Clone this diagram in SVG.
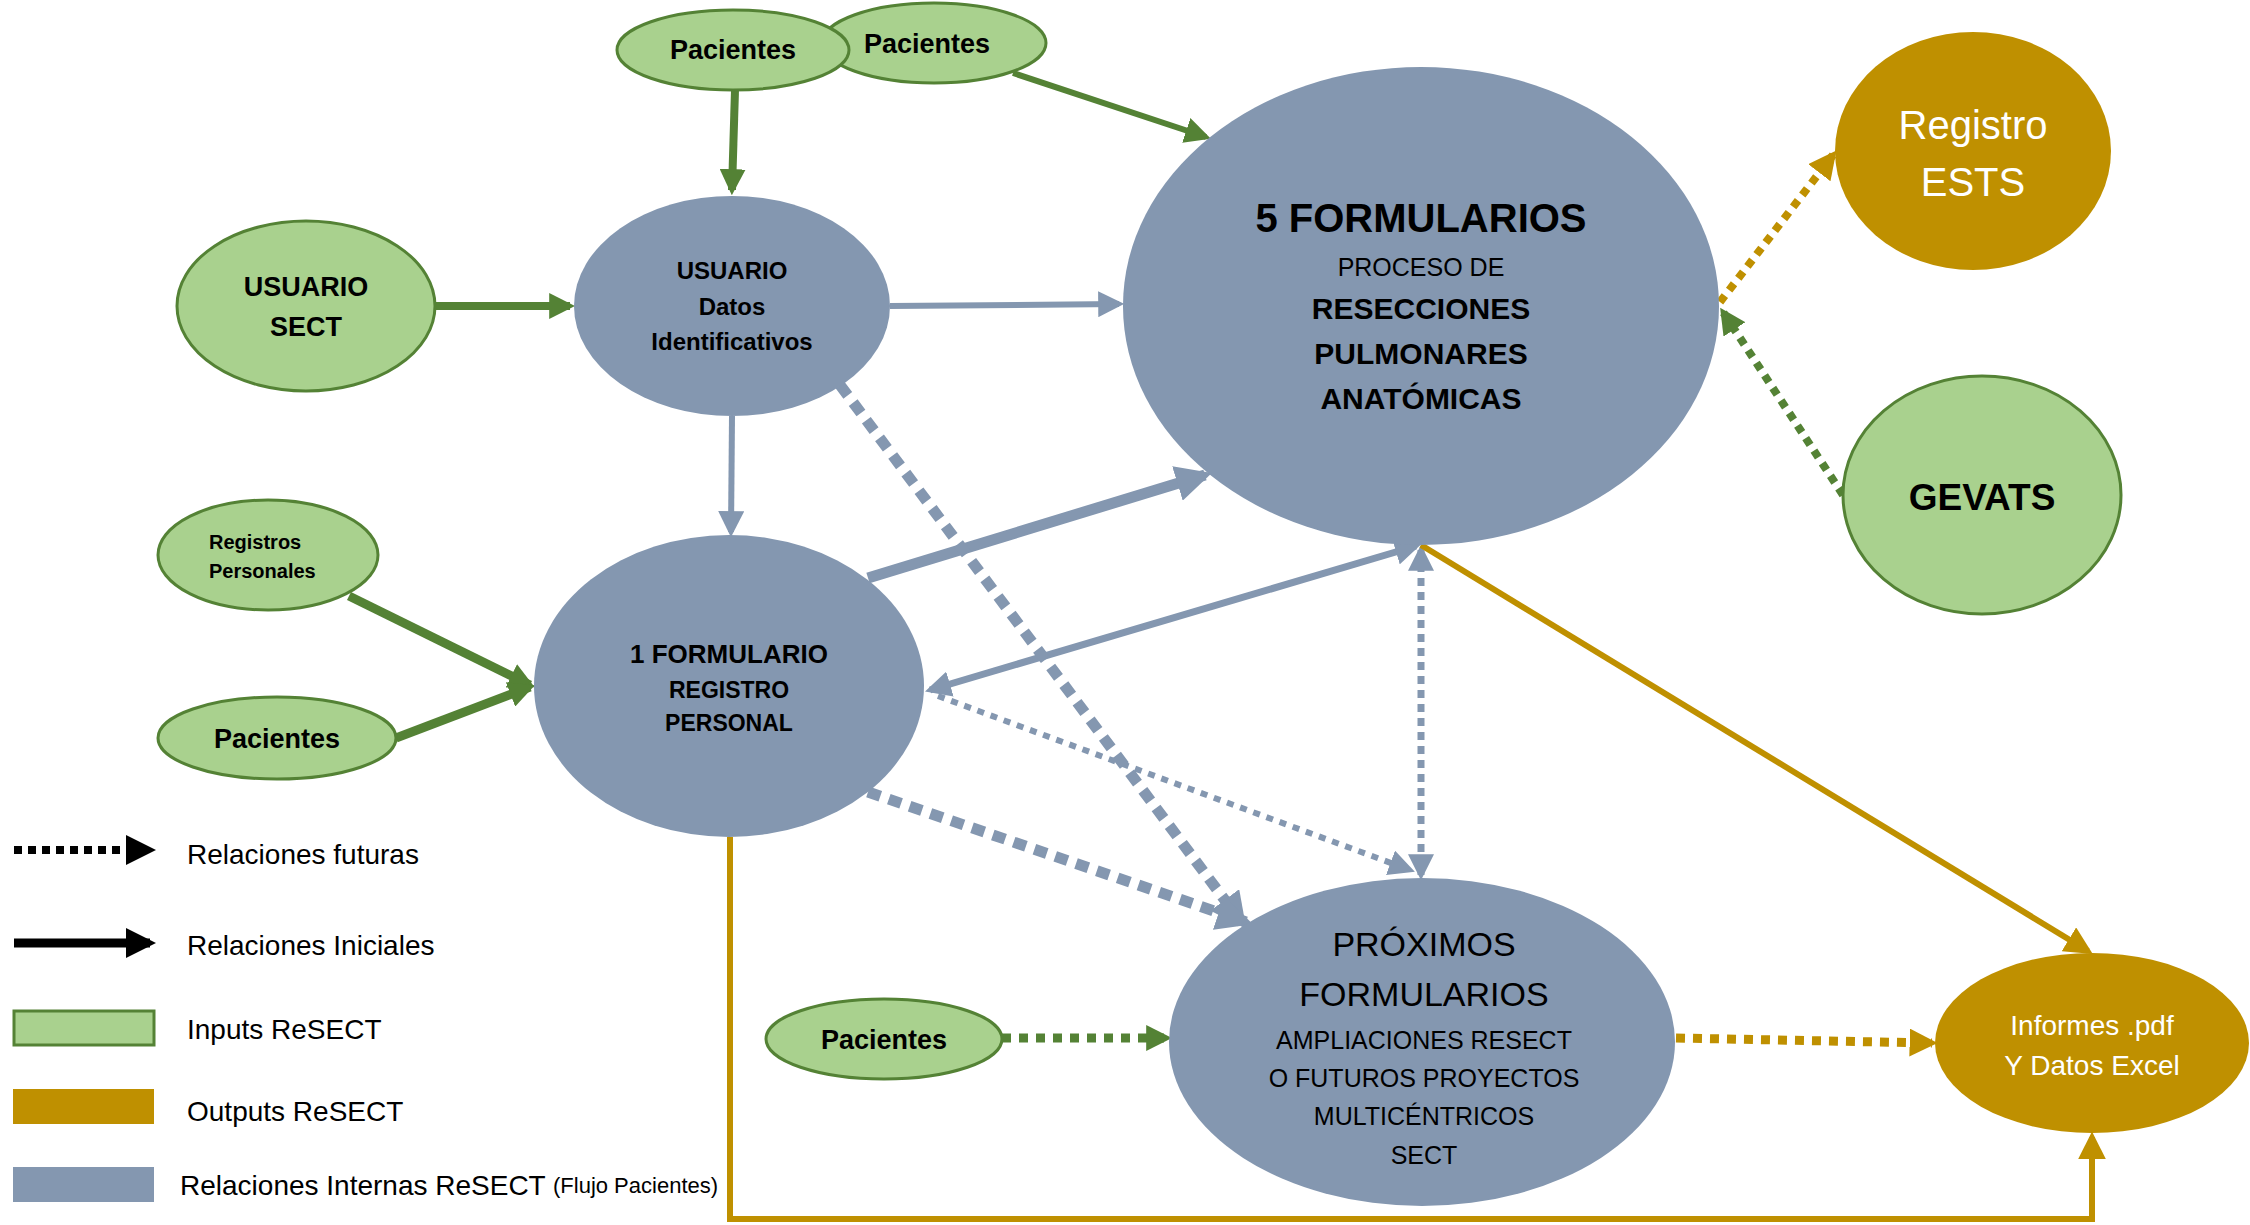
<svg xmlns="http://www.w3.org/2000/svg" width="2250" height="1225" viewBox="0 0 2250 1225">
<style>
.gin{fill:#A9D18E;stroke:#548235;stroke-width:3}
.blu{fill:#8497B0}
.gld{fill:#BF9000}
text{font-family:"Liberation Sans",Arial,sans-serif;text-anchor:middle;dominant-baseline:central}
.b{font-weight:bold;fill:#000}
.r{fill:#000}
.w{fill:#fff}
.st{text-anchor:start}
.lg{text-anchor:start;font-size:28px;fill:#000}
.cg{stroke:#548235;fill:none}
.cb{stroke:#8497B0;fill:none}
.co{stroke:#BF9000;fill:none}
.ck{stroke:#000;fill:none}
</style>
<defs>
<marker id="aG" viewBox="0 0 10 10" refX="8" refY="5" markerWidth="26" markerHeight="26" markerUnits="userSpaceOnUse" orient="auto-start-reverse"><path d="M0,0 L10,5 L0,10 z" fill="#548235"/></marker>
<marker id="aB" viewBox="0 0 10 10" refX="8" refY="5" markerWidth="26" markerHeight="26" markerUnits="userSpaceOnUse" orient="auto-start-reverse"><path d="M0,0 L10,5 L0,10 z" fill="#8497B0"/></marker>
<marker id="aBL" viewBox="0 0 10 10" refX="8" refY="5" markerWidth="36" markerHeight="36" markerUnits="userSpaceOnUse" orient="auto-start-reverse"><path d="M0,0 L10,5 L0,10 z" fill="#8497B0"/></marker>
<marker id="aO" viewBox="0 0 10 10" refX="8" refY="5" markerWidth="28" markerHeight="28" markerUnits="userSpaceOnUse" orient="auto-start-reverse"><path d="M0,0 L10,5 L0,10 z" fill="#BF9000"/></marker>
<marker id="aK" viewBox="0 0 10 10" refX="8" refY="5" markerWidth="30" markerHeight="30" markerUnits="userSpaceOnUse" orient="auto"><path d="M0,0 L10,5 L0,10 z" fill="#000"/></marker>
</defs>

<g id="connectors">
<line class="cg" x1="735" y1="90" x2="732" y2="190" stroke-width="8" marker-end="url(#aG)"/>
<line class="cg" x1="1013" y1="73" x2="1206" y2="137" stroke-width="6" marker-end="url(#aG)"/>
<line class="cg" x1="435" y1="306" x2="570" y2="306" stroke-width="8" marker-end="url(#aG)"/>
<line class="cb" x1="890" y1="306" x2="1119" y2="304" stroke-width="6" marker-end="url(#aB)"/>
<line class="cb" x1="732" y1="416" x2="731" y2="532" stroke-width="6" marker-end="url(#aB)"/>
<line class="cg" x1="349" y1="596" x2="530" y2="685" stroke-width="9" marker-end="url(#aG)"/>
<line class="cg" x1="396" y1="738" x2="530" y2="687" stroke-width="9" marker-end="url(#aG)"/>
<line class="cb" x1="868" y1="578" x2="1205" y2="475" stroke-width="11" marker-end="url(#aBL)"/>
<line class="cb" x1="930" y1="690" x2="1416" y2="546" stroke-width="7" marker-start="url(#aB)" marker-end="url(#aB)"/>
<line class="cb" x1="1421" y1="550" x2="1421" y2="875" stroke-width="7" stroke-dasharray="8,6" marker-start="url(#aB)" marker-end="url(#aB)"/>
<line class="cb" x1="938" y1="696" x2="1410" y2="870" stroke-width="6" stroke-dasharray="7,7" marker-end="url(#aB)"/>
<line class="cb" x1="840" y1="385" x2="1242" y2="923" stroke-width="11" stroke-dasharray="13,9" marker-end="url(#aBL)"/>
<line class="cb" x1="868" y1="792" x2="1246" y2="922" stroke-width="11" stroke-dasharray="13,9" marker-end="url(#aBL)"/>
<line class="co" x1="1421" y1="545" x2="2088" y2="951" stroke-width="6" marker-end="url(#aO)"/>
<polyline class="co" points="730,837 730,1219 2092,1219 2092,1137" stroke-width="6" marker-end="url(#aO)"/>
<line class="co" x1="1676" y1="1038" x2="1932" y2="1043" stroke-width="9" stroke-dasharray="9,8" marker-end="url(#aO)"/>
<line class="cg" x1="1002" y1="1038" x2="1167" y2="1038" stroke-width="9" stroke-dasharray="9,8" marker-end="url(#aG)"/>
<line class="co" x1="1720" y1="302" x2="1833" y2="155" stroke-width="8" stroke-dasharray="8,7" marker-end="url(#aO)"/>
<line class="cg" x1="1843" y1="495" x2="1723" y2="312" stroke-width="8" stroke-dasharray="8,7" marker-end="url(#aG)"/>
</g>

<g id="pacientes-b"><ellipse class="gin" cx="934" cy="43" rx="112" ry="40"/><text class="b" x="927" y="44" font-size="27">Pacientes</text></g>
<g id="pacientes-a"><ellipse class="gin" cx="733" cy="50" rx="116" ry="40"/><text class="b" x="733" y="50" font-size="27">Pacientes</text></g>
<g id="usuario-sect"><ellipse class="gin" cx="306" cy="306" rx="129" ry="85"/><text class="b" x="306" y="287" font-size="27">USUARIO</text><text class="b" x="306" y="327" font-size="27">SECT</text></g>
<g id="usuario-datos"><ellipse class="blu" cx="732" cy="306" rx="158" ry="110"/><text class="b" x="732" y="270" font-size="24">USUARIO</text><text class="b" x="732" y="306" font-size="24">Datos</text><text class="b" x="732" y="341" font-size="24">Identificativos</text></g>
<g id="cinco-formularios"><ellipse class="blu" cx="1421" cy="306" rx="298" ry="239"/>
<text class="b" x="1421" y="218" font-size="40">5 FORMULARIOS</text>
<text class="r" x="1421" y="267" font-size="25">PROCESO DE</text>
<text class="b" x="1421" y="308" font-size="30">RESECCIONES</text>
<text class="b" x="1421" y="353" font-size="30">PULMONARES</text>
<text class="b" x="1421" y="398" font-size="30">ANATÓMICAS</text></g>
<g id="registro-ests"><ellipse class="gld" cx="1973" cy="151" rx="138" ry="119"/><text class="w" x="1973" y="125" font-size="40">Registro</text><text class="w" x="1973" y="182" font-size="40">ESTS</text></g>
<g id="gevats"><ellipse class="gin" cx="1982" cy="495" rx="139" ry="119"/><text class="b" x="1982" y="497" font-size="37">GEVATS</text></g>
<g id="registros-personales"><ellipse class="gin" cx="268" cy="555" rx="110" ry="55"/><text class="b st" x="209" y="542" font-size="20">Registros</text><text class="b st" x="209" y="571" font-size="20">Personales</text></g>
<g id="pacientes-c"><ellipse class="gin" cx="277" cy="738" rx="119" ry="41"/><text class="b" x="277" y="739" font-size="27">Pacientes</text></g>
<g id="un-formulario"><ellipse class="blu" cx="729" cy="686" rx="195" ry="151"/><text class="b" x="729" y="654" font-size="26">1 FORMULARIO</text><text class="b" x="729" y="690" font-size="23">REGISTRO</text><text class="b" x="729" y="723" font-size="23">PERSONAL</text></g>
<g id="proximos"><ellipse class="blu" cx="1422" cy="1042" rx="253" ry="164"/>
<text class="r" x="1424" y="944" font-size="34">PRÓXIMOS</text>
<text class="r" x="1424" y="994" font-size="34">FORMULARIOS</text>
<text class="r" x="1424" y="1040" font-size="25">AMPLIACIONES RESECT</text>
<text class="r" x="1424" y="1078" font-size="25">O FUTUROS PROYECTOS</text>
<text class="r" x="1424" y="1116" font-size="25">MULTICÉNTRICOS</text>
<text class="r" x="1424" y="1155" font-size="25">SECT</text></g>
<g id="pacientes-d"><ellipse class="gin" cx="884" cy="1039" rx="118" ry="40"/><text class="b" x="884" y="1040" font-size="27">Pacientes</text></g>
<g id="informes"><ellipse class="gld" cx="2092" cy="1043" rx="157" ry="90"/><text class="w" x="2092" y="1025" font-size="28">Informes .pdf</text><text class="w" x="2092" y="1065" font-size="28">Y Datos Excel</text></g>

<g id="legend">
<line class="ck" x1="14" y1="850" x2="150" y2="850" stroke-width="8" stroke-dasharray="8,6" marker-end="url(#aK)"/>
<text class="lg" x="187" y="854">Relaciones futuras</text>
<line class="ck" x1="14" y1="943" x2="150" y2="943" stroke-width="9" marker-end="url(#aK)"/>
<text class="lg" x="187" y="945">Relaciones Iniciales</text>
<rect x="14" y="1011" width="140" height="34" fill="#A9D18E" stroke="#548235" stroke-width="3"/>
<text class="lg" x="187" y="1029">Inputs ReSECT</text>
<rect x="13" y="1089" width="141" height="35" fill="#BF9000"/>
<text class="lg" x="187" y="1111">Outputs ReSECT</text>
<rect x="13" y="1167" width="141" height="35" fill="#8497B0"/>
<text class="lg" x="180" y="1185" font-size="27">Relaciones Internas ReSECT <tspan font-size="22">(Flujo Pacientes)</tspan></text>
</g>
</svg>
